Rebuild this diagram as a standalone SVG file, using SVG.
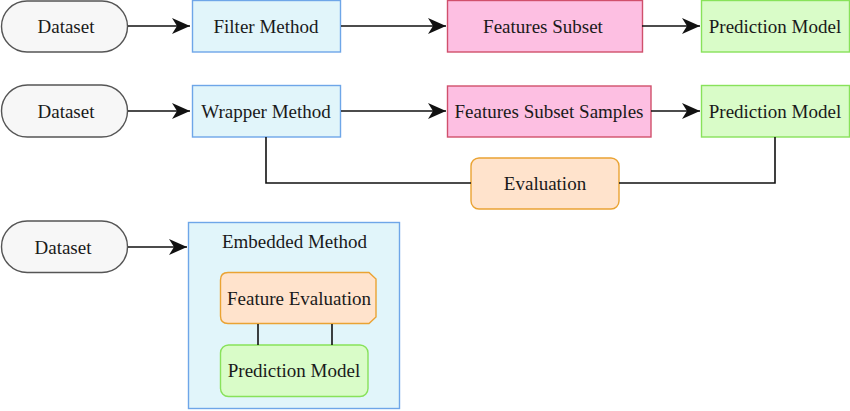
<svg xmlns="http://www.w3.org/2000/svg" width="850" height="411" viewBox="0 0 850 411">
<defs>
<style>
text{font-family:"Liberation Serif","Times New Roman",serif;font-size:19px;fill:#1a1a1a;text-anchor:middle}
.ds{fill:#f7f7f7;stroke:#555;stroke-width:1.4}
.blue{fill:#e1f5fa;stroke:#6ea6e8;stroke-width:1.4}
.pink{fill:#fdbfe2;stroke:#d0506c;stroke-width:1.4}
.green{fill:#d9fcc8;stroke:#88e25a;stroke-width:1.4}
.orange{fill:#ffe3cc;stroke:#eaa333;stroke-width:1.4}
.ln{fill:none;stroke:#111;stroke-width:1.6}
</style>
<marker id="arr" markerUnits="userSpaceOnUse" markerWidth="20" markerHeight="18" refX="18" refY="8" orient="auto">
<path d="M0,0 L18,8 L0,16 L5,8 Z" fill="#111"/>
</marker>
</defs>
<rect width="850" height="411" fill="#fff"/>
<g id="dataset1"><rect class="ds" x="1.5" y="1" width="126" height="51" rx="25.5"/><text x="66" y="33">Dataset</text></g>
<g id="filter"><rect class="blue" x="192.5" y="0.5" width="148" height="51.5"/><text x="266" y="33">Filter Method</text></g>
<g id="subset"><rect class="pink" x="447.5" y="0.5" width="195" height="51.5"/><text x="543" y="33">Features Subset</text></g>
<g id="pred1"><rect class="green" x="701.5" y="0.5" width="148" height="51.5"/><text x="775" y="33">Prediction Model</text></g>
<g id="dataset2"><rect class="ds" x="1.5" y="85" width="126" height="52" rx="26"/><text x="66" y="118">Dataset</text></g>
<g id="wrapper"><rect class="blue" x="192.5" y="85.5" width="148" height="51.5"/><text x="266" y="118">Wrapper Method</text></g>
<g id="samples"><rect class="pink" x="447.5" y="86" width="203.5" height="51"/><text x="549" y="118">Features Subset Samples</text></g>
<g id="pred2"><rect class="green" x="701.5" y="85.5" width="148" height="51.5"/><text x="775" y="118">Prediction Model</text></g>
<g id="evaluation"><rect class="orange" x="471" y="158" width="148" height="51" rx="8"/><text x="545" y="190">Evaluation</text></g>
<g id="dataset3"><rect class="ds" x="1.5" y="221" width="126" height="51.5" rx="25.7"/><text x="63" y="254">Dataset</text></g>
<g id="embedded"><rect class="blue" x="188.5" y="222.5" width="211" height="186"/><text x="294.5" y="248">Embedded Method</text></g>
<g id="featureEval"><path class="orange" d="M228,272.5 L369,272.5 L376,279 L376,317 L369,323.5 L228,323.5 Q220.5,323.5 220.5,316 L220.5,280 Q220.5,272.5 228,272.5 Z"/><text x="299" y="305">Feature Evaluation</text></g>
<g id="pred3"><rect class="green" x="220.5" y="345" width="147.5" height="51.5" rx="8"/><text x="294" y="377">Prediction Model</text></g>
<g id="connectors">
<line class="ln" x1="128" y1="26" x2="190" y2="26" marker-end="url(#arr)"/>
<line class="ln" x1="341" y1="26" x2="446" y2="26" marker-end="url(#arr)"/>
<line class="ln" x1="642" y1="26" x2="700" y2="26" marker-end="url(#arr)"/>
<line class="ln" x1="128" y1="111" x2="190" y2="111" marker-end="url(#arr)"/>
<line class="ln" x1="341" y1="111" x2="446" y2="111" marker-end="url(#arr)"/>
<line class="ln" x1="651" y1="111" x2="700" y2="111" marker-end="url(#arr)"/>
<polyline class="ln" points="266,137 266,183 471,183"/>
<polyline class="ln" points="619,183 775,183 775,137"/>
<line class="ln" x1="128" y1="247" x2="187" y2="247" marker-end="url(#arr)"/>
<line class="ln" x1="258" y1="324" x2="258" y2="345"/>
<line class="ln" x1="332" y1="324" x2="332" y2="345"/>
</g>
</svg>
